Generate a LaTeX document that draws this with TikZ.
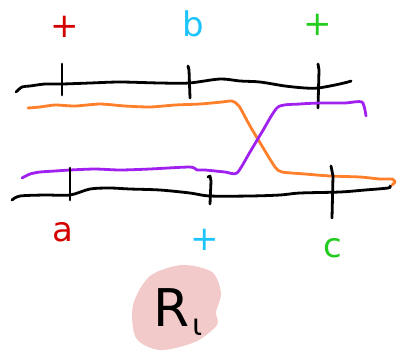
\documentclass[tikz,border=0pt]{standalone}
\usepackage{fontspec}
\setsansfont{DejaVu Sans}
\usetikzlibrary{positioning}
\usepackage{xcolor}
\definecolor{inkRed}{HTML}{D40000}
\definecolor{inkCyan}{HTML}{1CC4FA}
\definecolor{inkGreen}{HTML}{22CC1E}
\definecolor{inkOrange}{HTML}{FF7F2A}
\definecolor{inkPurple}{HTML}{A020F0}
\definecolor{blobPink}{HTML}{F2CACA}
\tikzset{
  ink/.style={line width=2.8pt, line cap=round, line join=round},
  wire/.style={ink, draw=#1},
  tickmark/.style={ink, draw=black},
  lbl/.style={font=\fontsize{34}{36}\selectfont\sffamily, text=#1, inner sep=0pt},
  blob/.style={fill=blobPink, draw=none}
}

\begin{document}
\begin{tikzpicture}[x=1pt,y=-1pt]
  \useasboundingbox (0,0) rectangle (406,360);
  % labels
  \node[lbl=inkRed]   (topA) at (65,27)  {+};
  \node[lbl=inkCyan]  (topB) at (193,24) {b};
  \node[lbl=inkGreen] (topC) at (318,25) {+};
  \node[lbl=inkRed]   (botA) at (63,232) {a};
  \node[lbl=inkCyan]  (botB) at (205,240) {+};
  \node[lbl=inkGreen] (botC) at (333,248) {c};
  % top rail
  \draw[wire=black] plot[smooth, tension=0.5] coordinates {(16,92) (22,87) (30,86) (45,84)
    (62,84) (90,83) (120,82) (160,83) (189,83) (220,79) (240,81) (260,82) (285,86)
    (305,88) (318,88) (335,85) (348,82) (351,81)};
  \draw[tickmark] (62,64) -- (62,95);
  \draw[tickmark] (188,66) -- (189,70) -- (190,98);
  \draw[tickmark] (318,64) -- (319,70) -- (318,108);
  % crossing wires
  \draw[wire=inkOrange] plot[smooth, tension=0.4] coordinates {(28,108) (40,107) (55,105)
    (75,106) (100,104) (125,106) (150,107) (175,105) (200,104) (222,102) (232,101)
    (239,106) (250,126) (262,146) (275,167) (282,172) (305,174) (330,176) (360,177)
    (380,179) (392,179) (395,182) (392,185)};
  \draw[wire=inkPurple] plot[smooth, tension=0.4] coordinates {(22,178) (30,174) (40,172)
    (55,171) (70,170) (95,169) (120,170) (150,169) (190,167) (197,170) (205,170)
    (225,172) (237,173) (250,152) (262,132) (278,107) (300,104) (320,103) (345,103)
    (362,102) (366,116)};
  % bottom rail
  \draw[wire=black] plot[smooth, tension=0.5] coordinates {(12,200) (20,196) (45,195)
    (70,195) (90,189) (110,188) (130,189) (160,190) (190,193) (210,196) (250,196)
    (280,195) (300,193) (340,192) (365,190) (388,188) (390,186)};
  \draw[tickmark] (70,168) -- (70,200);
  \draw[tickmark] (208,177) -- (210,176) -- (211,181) -- (210,204);
  \draw[tickmark] (331,166) -- (333,176) -- (332,218);
  % register
  \fill[blob] plot[smooth cycle] coordinates {(150,276) (182,265) (212,272) (221,293)
    (216,312) (217,325) (195,342) (160,350) (136,338) (133,305)};
  \node[font=\fontsize{52}{54}\selectfont\sffamily, inner sep=0pt] (reg) at (178,312)
    {R\kern3pt\raisebox{-9pt}{\fontsize{30}{30}\selectfont ι}};
\end{tikzpicture}
\end{document}
